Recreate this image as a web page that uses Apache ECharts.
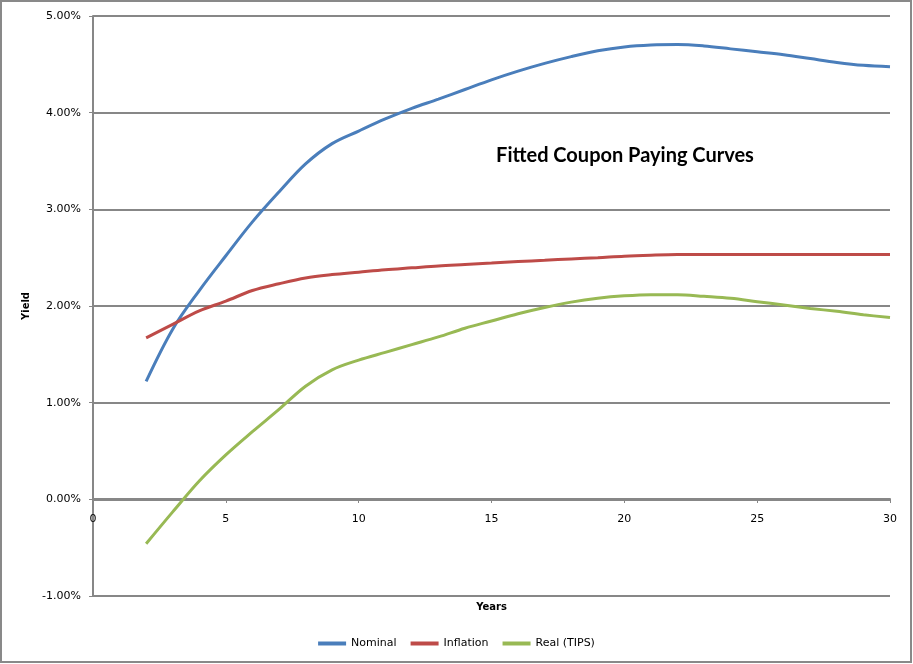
<!DOCTYPE html>
<html>
<head>
<meta charset="utf-8">
<title>Fitted Coupon Paying Curves</title>
<script src="https://cdn.jsdelivr.net/npm/echarts@6/dist/echarts.min.js"></script>
<style>
    html, body { margin: 0; padding: 0; background: #fff; }
    #myChart { width: 913px; height: 664px; }
</style>
</head>
<body>
<div id="myChart"></div>
<script>
var years = [2, 3, 4, 5, 6, 7, 8, 9, 10, 11, 12, 13, 14, 15, 16, 17, 18, 19, 20, 21, 22, 23, 24, 25, 26, 27, 28, 29, 30];

var nominal = [1.22, 1.76, 2.16, 2.52, 2.87, 3.18, 3.47, 3.68, 3.81, 3.935, 4.045, 4.14, 4.24, 4.34, 4.43,
    4.51, 4.58, 4.64, 4.68, 4.70, 4.705, 4.69, 4.66, 4.63, 4.60, 4.56, 4.52, 4.49, 4.475];

var inflation = [1.67, 1.81, 1.95, 2.05, 2.16, 2.23, 2.29, 2.325, 2.35, 2.375, 2.395, 2.415, 2.43, 2.445, 2.46,
    2.473, 2.487, 2.50, 2.515, 2.525, 2.532, 2.533, 2.533, 2.533, 2.533, 2.533, 2.533, 2.533, 2.533];

var real = [-0.46, -0.13, 0.19, 0.46, 0.70, 0.93, 1.17, 1.34, 1.44, 1.52, 1.60, 1.68, 1.77, 1.845, 1.92,
    1.985, 2.04, 2.08, 2.105, 2.117, 2.117, 2.10, 2.08, 2.045, 2.01, 1.975, 1.945, 1.91, 1.88];

var seriesNames = ['Nominal', 'Inflation', 'Real (TIPS)'];
var seriesColors = ['#4a7ebb', '#be4b48', '#98b954'];

function pairs(values) {
    return years.map(function(y, i) { return [y, values[i]]; });
}

var axisFont = 'DejaVu Sans, Tahoma, sans-serif';
var gridGray = '#878787';

var myChart = echarts.init(document.getElementById('myChart'));
myChart.setOption({
    animation: false,
    title: {
        text: 'Fitted Coupon Paying Curves',
        left: 620,
        top: 141,
        textAlign: 'center',
        textStyle: {
            fontFamily: 'Lato, sans-serif',
            fontWeight: 'bold',
            fontSize: 20,
            color: '#000'
        }
    },
    graphic: [{
        type: 'rect',
        shape: { x: 1, y: 1, width: 910, height: 661 },
        style: { fill: 'none', stroke: '#898989', lineWidth: 2 },
        silent: true
    }],
    legend: {
        data: seriesNames,
        left: 'center',
        top: 633,
        icon: 'rect',
        itemWidth: 28,
        itemHeight: 4,
        itemGap: 14,
        textStyle: {
            fontFamily: axisFont,
            fontSize: 11,
            color: '#000'
        }
    },
    grid: {
        left: 93,
        right: 23,
        top: 16,
        bottom: 68,
        containLabel: false,
        outerBoundsMode: 'none'
    },
    xAxis: {
        type: 'value',
        min: 0,
        max: 30,
        interval: 5,
        position: 'bottom',
        offset: -97,   // x axis crosses at 0.00%
        name: 'Years',
        nameLocation: 'middle',
        nameGap: 103,
        nameTextStyle: {
            fontFamily: axisFont,
            fontWeight: 'bold',
            fontSize: 10,
            color: '#000'
        },
        axisLine: {
            onZero: false,
            lineStyle: { color: gridGray, width: 2 }
        },
        axisTick: {
            show: true,
            length: 4,
            lineStyle: { color: gridGray, width: 1 }
        },
        axisLabel: {
            margin: 15,
            fontFamily: axisFont,
            fontSize: 11,
            color: '#000'
        },
        splitLine: { show: false }
    },
    yAxis: {
        type: 'value',
        min: -1,
        max: 5,
        interval: 1,
        name: 'Yield',
        nameLocation: 'middle',
        nameGap: 62,
        nameTextStyle: {
            fontFamily: axisFont,
            fontWeight: 'bold',
            fontSize: 10,
            color: '#000'
        },
        axisLine: {
            show: true,
            onZero: false,
            lineStyle: { color: gridGray, width: 2 }
        },
        axisTick: {
            show: true,
            length: 4,
            lineStyle: { color: gridGray, width: 1 }
        },
        axisLabel: {
            margin: 12,
            fontFamily: axisFont,
            fontSize: 11,
            color: '#000',
            formatter: function(v) { return v.toFixed(2) + '%'; }
        },
        splitLine: {
            show: true,
            lineStyle: { color: gridGray, width: 2 }
        }
    },
    series: [nominal, inflation, real].map(function(values, i) {
        return {
            name: seriesNames[i],
            type: 'line',
            data: pairs(values),
            smooth: 0.35,
            symbol: 'none',
            color: seriesColors[i],
            lineStyle: { width: 3, color: seriesColors[i] }
        };
    })
});
</script>
</body>
</html>
